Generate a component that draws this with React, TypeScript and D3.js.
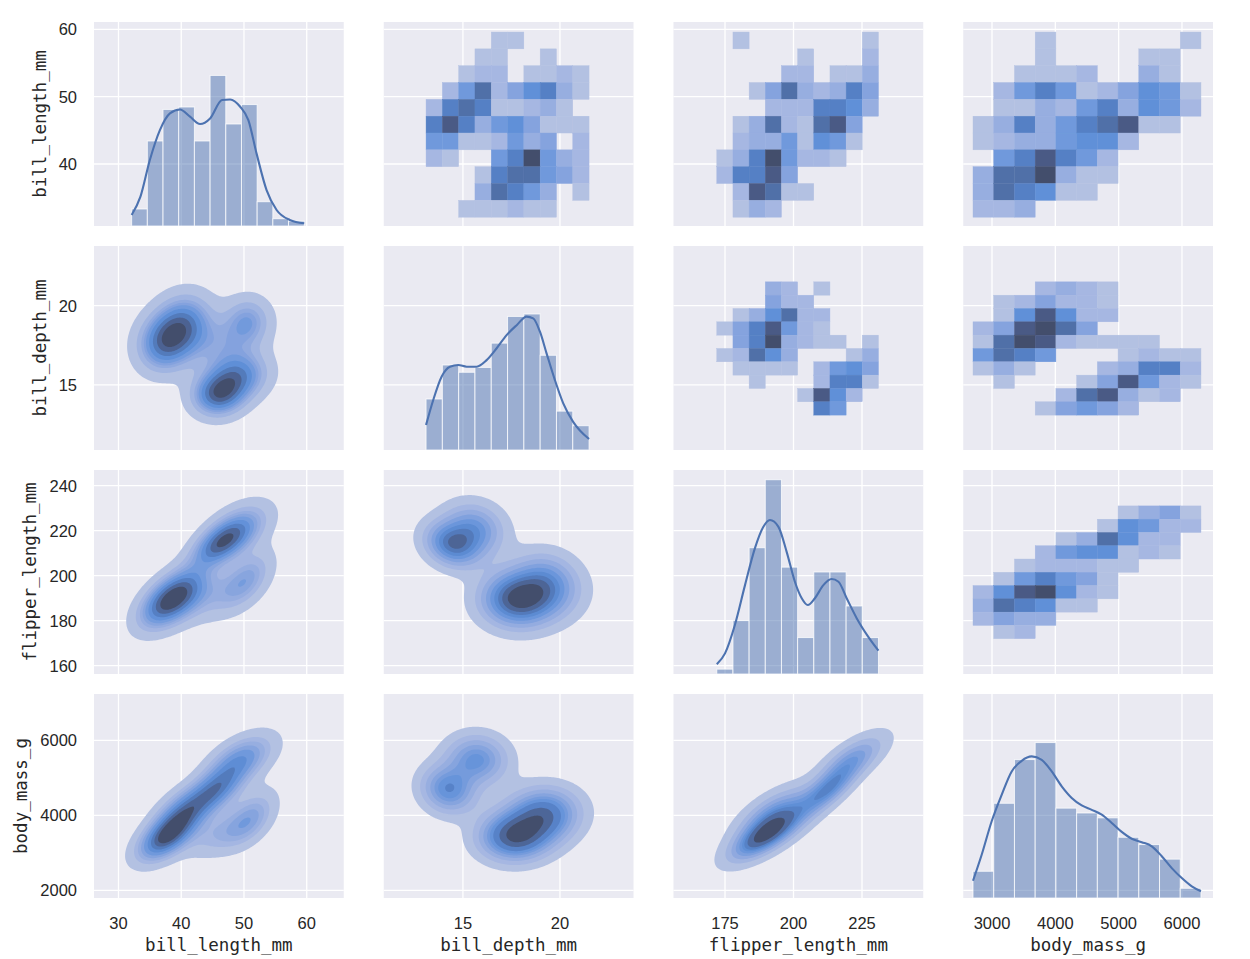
import React, { useMemo } from "react";
import * as d3 from "d3";

// ---------------- data ----------------
const VAR_LABELS = ["bill_length_mm", "bill_depth_mm", "flipper_length_mm", "body_mass_g"];
const COL_DOMAINS = [[26.1, 65.9], [10.92, 23.79], [156.2, 247.35], [2546, 6490]];
const ROW_DOMAINS = [[30.79, 61.09], [10.9, 23.76], [156.3, 246.96], [1795, 7235]];
const COL_TICKS = [[30, 40, 50, 60], [15, 20], [175, 200, 225], [3000, 4000, 5000, 6000]];
const ROW_TICKS = [[40, 50, 60], [15, 20], [160, 180, 200, 220, 240], [2000, 4000, 6000]];
// [min, max, number of bins]
const BIN_RANGES = [[32.1, 59.6, 11], [13.1, 21.5, 10], [172, 231, 10], [2700, 6300, 11]];
const DIAG_COUNT_MAX = 84;

const HIST_BILL_LENGTH = [7, 35, 48, 49, 35, 62, 42, 50, 10, 3, 2];
const HIST_BILL_DEPTH = [21, 35, 32, 34, 44, 55, 56, 39, 16, 10];
const HIST_FLIPPER = [2, 22, 52, 80, 44, 15, 42, 42, 28, 15];
const HIST_BODY_MASS = [11, 39, 57, 64, 37, 35, 33, 25, 22, 16, 4];

const KDE_BILL_LENGTH = [[32.1, 4.5], [33.5, 12.1], [35.0, 27.2], [36.6, 39.5], [38.2, 46.4], [39.8, 48.0], [41.4, 45.0], [43.0, 42.0], [44.6, 44.3], [46.5, 51.9], [47.8, 52.1], [49.4, 49.1], [50.7, 43.6], [52.0, 29.9], [53.6, 14.8], [55.2, 6.6], [57.3, 2.5], [59.6, 1.1]];
const KDE_BILL_DEPTH = [[13.1, 10.3], [13.47, 20.6], [13.9, 30.2], [14.33, 34.3], [14.76, 35.0], [15.19, 34.3], [15.71, 34.3], [16.22, 37.0], [16.74, 41.9], [17.25, 47.3], [17.77, 51.4], [18.28, 54.9], [18.62, 54.2], [18.97, 48.7], [19.31, 39.8], [19.74, 28.8], [20.17, 19.2], [20.68, 11.6], [21.5, 4.5]];
const KDE_FLIPPER = [[172, 4.0], [175.0, 8.5], [178.6, 20.2], [182.3, 36.6], [185.9, 51.7], [189.0, 60.6], [191.4, 63.4], [194.5, 60.6], [197.5, 50.3], [200.5, 38.0], [203.0, 31.2], [205.2, 28.4], [207.8, 31.2], [210.9, 36.6], [213.9, 39.1], [216.4, 38.0], [219.4, 31.2], [223.1, 22.9], [227.3, 15.3], [231, 9.6]];
const KDE_BODY_MASS = [[2700, 7.1], [2837, 17.8], [2995, 31.6], [3153, 42.5], [3311, 52.1], [3469, 56.5], [3627, 58.3], [3785, 56.9], [3943, 52.1], [4101, 46.0], [4259, 41.2], [4417, 38.1], [4575, 36.3], [4733, 34.3], [4891, 30.9], [5049, 27.2], [5207, 24.4], [5365, 23.0], [5523, 21.3], [5681, 17.2], [5839, 12.3], [5997, 8.2], [6155, 4.8], [6300, 2.8]];

const DIAG_HISTS = [HIST_BILL_LENGTH, HIST_BILL_DEPTH, HIST_FLIPPER, HIST_BODY_MASS];
const DIAG_KDES = [KDE_BILL_LENGTH, KDE_BILL_DEPTH, KDE_FLIPPER, KDE_BODY_MASS];

// 2D histogram colour levels (1 = lightest, 10 = darkest, 0 = empty); rows from top bin to bottom bin
const H2D_R1C2 = [
  [0, 0, 0, 0, 1, 1, 0, 0, 0, 0],
  [0, 0, 0, 1, 1, 0, 0, 1, 0, 0],
  [0, 0, 1, 2, 2, 0, 1, 1, 2, 1],
  [0, 2, 5, 8, 2, 4, 6, 7, 3, 1],
  [2, 7, 8, 7, 1, 1, 2, 3, 1, 0],
  [7, 9, 7, 3, 5, 6, 4, 1, 1, 1],
  [5, 5, 1, 1, 2, 5, 3, 4, 0, 2],
  [2, 1, 0, 0, 5, 7, 10, 5, 3, 2],
  [0, 0, 0, 1, 7, 8, 8, 5, 4, 2],
  [0, 0, 0, 3, 8, 7, 5, 3, 0, 1],
  [0, 0, 1, 1, 1, 2, 1, 1, 0, 0],
];
const H2D_R1C3 = [
  [0, 1, 0, 0, 0, 0, 0, 0, 0, 1],
  [0, 0, 0, 0, 0, 1, 0, 0, 0, 2],
  [0, 0, 0, 0, 2, 2, 0, 1, 1, 3],
  [0, 0, 1, 4, 8, 3, 2, 3, 7, 4],
  [0, 0, 0, 2, 2, 2, 7, 7, 6, 3],
  [0, 1, 3, 8, 2, 1, 8, 9, 4, 0],
  [0, 2, 3, 3, 5, 1, 6, 5, 1, 0],
  [1, 3, 7, 10, 5, 2, 2, 1, 0, 0],
  [2, 7, 7, 9, 4, 0, 0, 0, 0, 0],
  [0, 2, 9, 8, 1, 1, 0, 0, 0, 0],
  [0, 1, 3, 2, 0, 0, 0, 0, 0, 0],
];
const H2D_R1C4 = [
  [0, 0, 0, 1, 0, 0, 0, 0, 0, 0, 1],
  [0, 0, 0, 1, 0, 0, 0, 0, 1, 1, 0],
  [0, 0, 1, 1, 1, 2, 0, 0, 3, 1, 0],
  [0, 2, 5, 7, 5, 1, 2, 4, 6, 5, 1],
  [0, 1, 1, 3, 2, 5, 7, 3, 6, 5, 2],
  [1, 3, 7, 3, 5, 7, 8, 9, 1, 1, 0],
  [1, 2, 3, 3, 5, 6, 6, 2, 0, 0, 0],
  [0, 5, 7, 9, 7, 5, 2, 0, 0, 0, 0],
  [3, 8, 8, 10, 3, 1, 1, 0, 0, 0, 0],
  [3, 8, 7, 6, 1, 1, 0, 0, 0, 0, 0],
  [2, 2, 3, 0, 0, 0, 0, 0, 0, 0, 0],
];
const H2D_R2C3 = [
  [0, 0, 0, 3, 2, 0, 1, 0, 0, 0],
  [0, 0, 0, 4, 2, 2, 0, 0, 0, 0],
  [0, 1, 3, 6, 8, 2, 2, 0, 0, 0],
  [1, 4, 7, 9, 5, 2, 1, 0, 0, 0],
  [0, 4, 7, 10, 3, 2, 1, 1, 0, 1],
  [1, 2, 8, 6, 3, 0, 0, 0, 1, 3],
  [0, 1, 1, 1, 1, 0, 2, 5, 6, 4],
  [0, 0, 1, 0, 0, 0, 2, 7, 7, 1],
  [0, 0, 0, 0, 0, 1, 9, 6, 2, 0],
  [0, 0, 0, 0, 0, 0, 7, 5, 0, 0],
];
const H2D_R2C4 = [
  [0, 0, 0, 2, 3, 2, 1, 0, 0, 0, 0],
  [0, 1, 2, 4, 2, 2, 1, 0, 0, 0, 0],
  [0, 1, 6, 9, 6, 2, 2, 0, 0, 0, 0],
  [2, 4, 9, 10, 8, 4, 0, 0, 0, 0, 0],
  [1, 8, 10, 9, 2, 1, 1, 1, 1, 0, 0],
  [5, 8, 7, 5, 0, 0, 0, 1, 2, 1, 1],
  [1, 3, 1, 0, 0, 0, 2, 3, 7, 7, 2],
  [0, 1, 0, 0, 0, 1, 4, 9, 5, 2, 1],
  [0, 0, 0, 0, 2, 8, 9, 3, 1, 2, 0],
  [0, 0, 0, 1, 4, 5, 4, 2, 0, 0, 0],
];
const H2D_R3C4 = [
  [0, 0, 0, 0, 0, 0, 0, 1, 3, 4, 1],
  [0, 0, 0, 0, 0, 0, 1, 6, 5, 2, 2],
  [0, 0, 0, 0, 1, 3, 8, 6, 2, 2, 0],
  [0, 0, 0, 2, 5, 6, 6, 1, 2, 1, 0],
  [0, 0, 1, 2, 2, 2, 1, 1, 0, 0, 0],
  [0, 1, 5, 7, 5, 4, 1, 0, 0, 0, 0],
  [2, 6, 9, 10, 6, 2, 1, 0, 0, 0, 0],
  [3, 8, 7, 6, 1, 1, 0, 0, 0, 0, 0],
  [2, 4, 3, 3, 0, 0, 0, 0, 0, 0, 0],
  [0, 1, 2, 0, 0, 0, 0, 0, 0, 0, 0],
];
const H2D: Record<string, number[][]> = { "01": H2D_R1C2, "02": H2D_R1C3, "03": H2D_R1C4, "12": H2D_R2C3, "13": H2D_R2C4, "23": H2D_R3C4 };

// KDE clusters: [centre x, centre y, spread x, spread y, tilt, weight]
const KDE_R2C1 = [[37.3, 17.6, 2.89, 1.2, 0.09, 73], [40.4, 18.85, 3.07, 1.26, 0.12, 78], [46.6, 17.6, 3.73, 1.08, 0.12, 34], [50.6, 19.05, 2.5, 1.02, 0.02, 34], [45.8, 14.35, 2.75, 0.9, 0.05, 58], [49.0, 15.55, 3.2, 1.0, 0.12, 65]];
const KDE_R3C1 = [[37.3, 187.8, 2.89, 7.72, 0.5, 73], [40.4, 192.4, 3.07, 8.47, 0.48, 78], [46.6, 191.7, 3.73, 7.83, 0.46, 34], [50.6, 199.0, 2.58, 8.0, 0.51, 34], [46.0, 213.6, 2.85, 6.5, 0.52, 58], [49.0, 220.3, 3.3, 7.6, 0.47, 65]];
const KDE_R3C2 = [[17.6, 187.8, 1.2, 7.72, -0.05, 73], [19.1, 192.4, 1.26, 8.47, 0.0, 78], [17.6, 191.7, 1.08, 7.83, -0.09, 34], [19.25, 199.9, 1.07, 8.0, -0.08, 34], [14.4, 213.5, 0.92, 6.5, -0.23, 58], [15.55, 220.5, 1.03, 7.6, -0.1, 65]];
const KDE_R4C1 = [[37.3, 3369, 2.89, 405, 0.53, 73], [40.4, 4043, 3.07, 461, 0.51, 78], [46.6, 3527, 3.73, 416, 0.5, 34], [51.1, 3939, 2.58, 472, 0.51, 34], [45.6, 4680, 2.91, 414, 0.52, 58], [49.5, 5485, 3.41, 436, 0.51, 65]];
const KDE_R4C2 = [[17.6, 3369, 1.2, 405, 0.0, 73], [19.1, 4043, 1.26, 461, 0.06, 78], [17.6, 3527, 1.08, 416, -0.04, 34], [19.25, 3939, 1.07, 472, 0.0, 34], [14.24, 4680, 0.92, 414, -0.12, 58], [15.72, 5485, 1.05, 436, -0.03, 65]];
const KDE_R4C3 = [[187.8, 3369, 7.72, 405, 0.69, 73], [192.4, 4043, 8.47, 461, 0.65, 78], [191.7, 3527, 7.83, 416, 0.68, 34], [199.9, 3939, 8.0, 472, 0.66, 34], [212.7, 4680, 6.59, 414, 0.72, 58], [221.5, 5485, 7.77, 436, 0.68, 65]];
const KDE2: Record<string, number[][]> = { "10": KDE_R2C1, "20": KDE_R3C1, "21": KDE_R3C2, "30": KDE_R4C1, "31": KDE_R4C2, "32": KDE_R4C3 };

const CMAP_STOPS = ["#b3c1e2", "#a6b7e2", "#97aee0", "#85a3de", "#7099dc", "#6090d8", "#5580c5", "#5070a8", "#4a5a85", "#434e6c"];
const KDE_PROPS = d3.range(10).map((k) => 0.05 + (0.95 * k) / 9);

// ---------------- layout ----------------
const W = 1250, H = 959;
const LEFT0 = 94, PW = 249.75, GAPX = 40;
const TOP0 = 22, PH = 204, GAPY = 20;
const BG = "#eaeaf2";
const BLUE = "#4c72b0";
const TEXT = "#262626";
const LABEL_FONT = "'DejaVu Sans Mono', monospace";
const TICK_FONT = "'Liberation Sans', Arial, sans-serif";
const TICK_SIZE = 16.5;
const DIGIT_W = 9.17;

const cmap = d3.piecewise(d3.interpolateRgb, CMAP_STOPS);
const colX = (c: number) => LEFT0 + c * (PW + GAPX);
const rowY = (r: number) => TOP0 + r * (PH + GAPY);
const edges = (rg: number[]) => d3.range(rg[2] + 1).map((k) => rg[0] + ((rg[1] - rg[0]) * k) / rg[2]);

function kdeLayers(comps: number[][], xs: any, ys: any) {
  const [x0, x1] = xs.range();
  const [yb, yt] = ys.range();
  const nx = 170, ny = 140;
  const dx = (x1 - x0) / nx, dy = (yb - yt) / ny;
  const pre = comps.map(([mx, my, sx, sy, rho, w]) => ({
    mx, my, sx, sy, rho,
    k: w / (2 * Math.PI * sx * sy * Math.sqrt(1 - rho * rho)),
    q: 1 / (2 * (1 - rho * rho)),
  }));
  const vals = new Array(nx * ny);
  for (let j = 0; j < ny; j++) {
    const y = ys.invert(yt + (j + 0.5) * dy);
    for (let i = 0; i < nx; i++) {
      const x = xs.invert(x0 + (i + 0.5) * dx);
      let s = 0;
      for (const p of pre) {
        const u = (x - p.mx) / p.sx, v = (y - p.my) / p.sy;
        s += p.k * Math.exp(-p.q * (u * u - 2 * p.rho * u * v + v * v));
      }
      vals[j * nx + i] = s;
    }
  }
  const sorted = vals.slice().sort((a: number, b: number) => b - a);
  const total = d3.sum(sorted);
  const cum: number[] = [];
  let acc = 0;
  for (const v of sorted) { acc += v; cum.push(acc / total); }
  const levels = KDE_PROPS.map((q) => {
    let idx = d3.bisectLeft(cum, 1 - q - 1e-12);
    if (idx >= sorted.length) idx = sorted.length - 1;
    return sorted[idx];
  });
  const mids = d3.range(9).map((k) => (levels[k] + levels[k + 1]) / 2);
  const contours = d3.contours().size([nx, ny]).thresholds(levels.slice(0, 9))(vals);
  const proj = d3.geoTransform({
    point(px: number, py: number) { (this as any).stream.point(x0 + px * dx, yt + py * dy); },
  });
  const path = d3.geoPath(proj);
  return contours.map((c: any, k: number) => ({
    d: path(c) || "",
    color: cmap((mids[k] - mids[0]) / (mids[8] - mids[0])),
  }));
}

function Panel({ r, c }: { r: number; c: number }) {
  const x0 = colX(c), y0 = rowY(r);
  const xs = d3.scaleLinear().domain(COL_DOMAINS[c]).range([x0, x0 + PW]);
  const ys = d3.scaleLinear().domain(ROW_DOMAINS[r]).range([y0 + PH, y0]);
  const key = `${r}${c}`;
  const kde = useMemo(() => (r > c ? kdeLayers(KDE2[key], xs, ys) : null), [r, c]);

  const grid = (
    <g>
      <rect x={x0} y={y0} width={PW} height={PH} fill={BG} />
      {COL_TICKS[c].map((t) => (
        <line key={"v" + t} x1={xs(t)} x2={xs(t)} y1={y0} y2={y0 + PH} stroke="#fff" strokeWidth={1.3} />
      ))}
      {ROW_TICKS[r].map((t) => (
        <line key={"h" + t} x1={x0} x2={x0 + PW} y1={ys(t)} y2={ys(t)} stroke="#fff" strokeWidth={1.3} />
      ))}
    </g>
  );

  let content: any = null;
  if (r === c) {
    const dys = d3.scaleLinear().domain([0, DIAG_COUNT_MAX]).range([y0 + PH, y0]);
    const e = edges(BIN_RANGES[c]);
    const line = d3.line<number[]>().x((p) => xs(p[0])).y((p) => dys(p[1])).curve(d3.curveMonotoneX);
    content = (
      <g>
        {DIAG_HISTS[c].map((v, k) => (
          <rect key={k} x={xs(e[k])} y={dys(v)} width={xs(e[k + 1]) - xs(e[k])} height={dys(0) - dys(v)}
            fill={BLUE} fillOpacity={0.5} stroke="#fff" strokeOpacity={0.75} strokeWidth={1} />
        ))}
        <path d={line(DIAG_KDES[c] as any) || ""} fill="none" stroke={BLUE} strokeWidth={2.1} />
      </g>
    );
  } else if (r < c) {
    const M = H2D[key];
    const ex = edges(BIN_RANGES[c]);
    const ey = edges(BIN_RANGES[r]);
    const n = M.length;
    content = (
      <g>
        {M.map((row, i) =>
          row.map((v, j) => {
            if (!v) return null;
            const k = n - 1 - i;
            const col = cmap((v - 1) / 9);
            return (
              <rect key={i + "-" + j} x={xs(ex[j])} y={ys(ey[k + 1])} width={xs(ex[j + 1]) - xs(ex[j])}
                height={ys(ey[k]) - ys(ey[k + 1])} fill={col} stroke={col} strokeWidth={0.4} />
            );
          })
        )}
      </g>
    );
  } else {
    content = (
      <g clipPath={`url(#clip${key})`}>
        {kde!.map((l, k) => (
          <path key={k} d={l.d} fill={l.color} />
        ))}
      </g>
    );
  }

  return (
    <g>
      <defs>
        <clipPath id={`clip${key}`}>
          <rect x={x0} y={y0} width={PW} height={PH} />
        </clipPath>
      </defs>
      {grid}
      {content}
    </g>
  );
}

export default function App() {
  const cells: any[] = [];
  for (let r = 0; r < 4; r++) for (let c = 0; c < 4; c++) cells.push(<Panel key={`${r}${c}`} r={r} c={c} />);

  return (
    <svg width={W} height={H} viewBox={`0 0 ${W} ${H}`} style={{ position: "absolute", left: 0, top: 0 }}>
      <rect width={W} height={H} fill="#fff" />
      {cells}
      {/* y tick labels and y labels (left column) */}
      {ROW_DOMAINS.map((dom, r) => {
        const ys = d3.scaleLinear().domain(dom).range([rowY(r) + PH, rowY(r)]);
        const maxChars = d3.max(ROW_TICKS[r], (t) => String(t).length) || 2;
        const labelX = 78 - DIGIT_W * maxChars - 14;
        return (
          <g key={"yl" + r}>
            {ROW_TICKS[r].map((t) => (
              <text key={t} x={77} y={ys(t) + 6} textAnchor="end" fontSize={TICK_SIZE} fill={TEXT} fontFamily={TICK_FONT}>{t}</text>
            ))}
            <text transform={`translate(${labelX},${rowY(r) + PH / 2}) rotate(-90)`} textAnchor="middle" fontSize={17.5}
              fill={TEXT} fontFamily={LABEL_FONT}>
              {VAR_LABELS[r]}
            </text>
          </g>
        );
      })}
      {/* x tick labels and x labels (bottom row) */}
      {COL_DOMAINS.map((dom, c) => {
        const xs = d3.scaleLinear().domain(dom).range([colX(c), colX(c) + PW]);
        return (
          <g key={"xl" + c}>
            {COL_TICKS[c].map((t) => (
              <text key={t} x={xs(t)} y={929} textAnchor="middle" fontSize={TICK_SIZE} fill={TEXT} fontFamily={TICK_FONT}>{t}</text>
            ))}
            <text x={colX(c) + PW / 2} y={951} textAnchor="middle" fontSize={17.5} fill={TEXT} fontFamily={LABEL_FONT}>
              {VAR_LABELS[c]}
            </text>
          </g>
        );
      })}
    </svg>
  );
}
